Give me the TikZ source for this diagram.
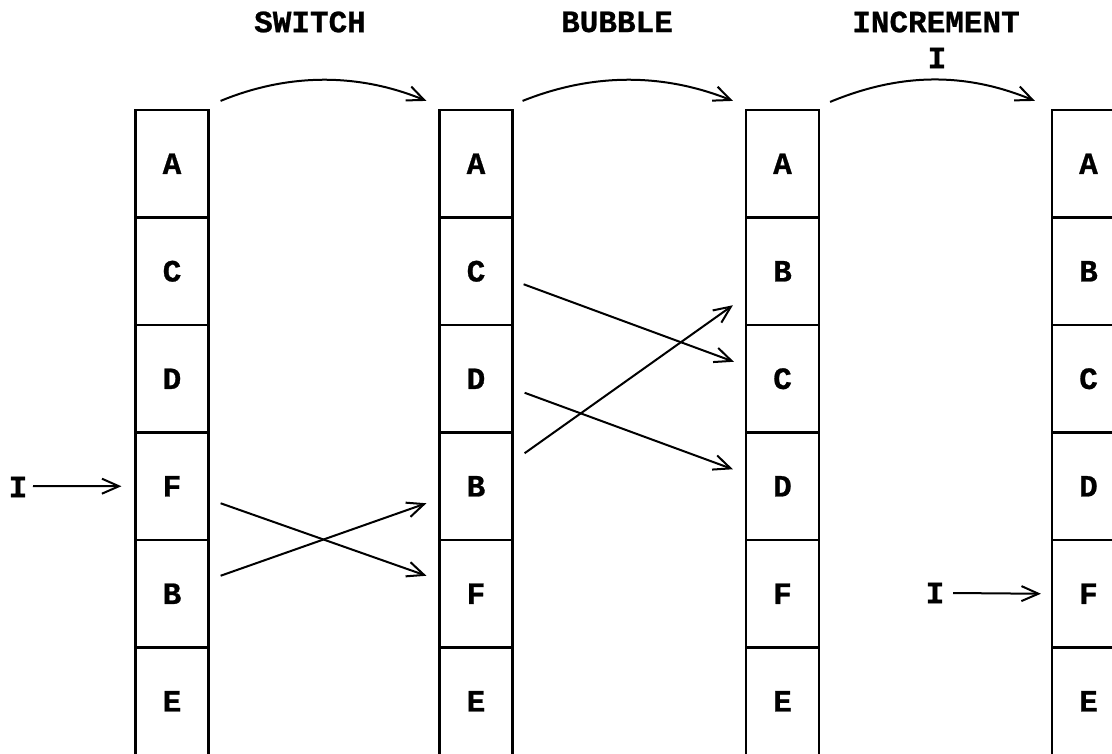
\documentclass[tikz,border=0pt]{standalone}
\usepackage{fontspec}
\newfontfamily\boxfont{Liberation Mono}[BoldFont={Liberation Mono Bold},BoldFeatures={FakeBold=0.8}]
\usetikzlibrary{arrows.meta}
\tikzset{
  cell/.style={draw, line width=2.2pt, minimum width=73pt, minimum height=107.5pt, inner sep=0pt, font=\boxfont\bfseries\fontsize{31}{31}\selectfont},
  lbl/.style={inner sep=0pt, font=\boxfont\bfseries\fontsize{31}{31}\selectfont},
  arr/.style={line width=2pt, -{Straight Barb[length=17pt,width=15pt,line width=2pt]}}
}
\begin{document}
\begin{tikzpicture}[x=1pt,y=-1pt]
\clip (0,0) rectangle (1112,753);
\fill[white] (0,0) rectangle (1112,753);
% columns
\foreach \c/\x/\la/\lb/\lc/\ld/\le/\lf in {1/172/A/C/D/F/B/E, 2/476/A/C/D/B/F/E, 3/782.5/A/B/C/D/F/E, 4/1088.5/A/B/C/D/F/E}{
  \node[cell] (c\c r1) at (\x,163.75) {\la};
  \node[cell] (c\c r2) at (\x,271.25) {\lb};
  \node[cell] (c\c r3) at (\x,378.75) {\lc};
  \node[cell] (c\c r4) at (\x,486.25) {\ld};
  \node[cell] (c\c r5) at (\x,593.75) {\le};
  \node[cell] (c\c r6) at (\x,701.25) {\lf};
}
% top labels
\node[lbl] (sw) at (310,22) {SWITCH};
\node[lbl] (bu) at (617,22) {BUBBLE};
\node[lbl] (inc) at (936,22) {INCREMENT};
\node[lbl] (inci) at (937,58) {I};
% arcs
\draw[arr] ([shift={(11,-8)}]c1r1.north east) .. controls +(68,-28) and +(-68,-28) .. ([shift={(-12,-8)}]c2r1.north west);
\draw[arr] ([shift={(9,-8)}]c2r1.north east) .. controls +(70,-28) and +(-70,-28) .. ([shift={(-12,-8)}]c3r1.north west);
\draw[arr] ([shift={(10,-7)}]c3r1.north east) .. controls +(70,-29) and +(-70,-29) .. ([shift={(-16,-8)}]c4r1.north west);
% I pointers
\node[lbl] (i1) at (18,487) {I};
\coordinate (i1s) at (33,486);
\draw[arr] (i1s) -- ([shift={(-13,0)}]c1r4.west);
\node[lbl] (i2) at (935,593) {I};
\coordinate (i2s) at (953,593);
\draw[arr] (i2s) -- ([shift={(-10,0)}]c4r5.west);
% switch crossing
\draw[arr] ([shift={(11,17)}]c1r4.east) -- ([shift={(-12,-18)}]c2r5.west);
\draw[arr] ([shift={(11,-18)}]c1r5.east) -- ([shift={(-12,17)}]c2r4.west);
% bubble crossing
\draw[arr] ([shift={(10,13)}]c2r2.east) -- ([shift={(-11,-17)}]c3r3.west);
\draw[arr] ([shift={(11,14)}]c2r3.east) -- ([shift={(-12,-17)}]c3r4.west);
\draw[arr] ([shift={(11,-33)}]c2r4.east) -- ([shift={(-12,34)}]c3r2.west);
\end{tikzpicture}
\end{document}
